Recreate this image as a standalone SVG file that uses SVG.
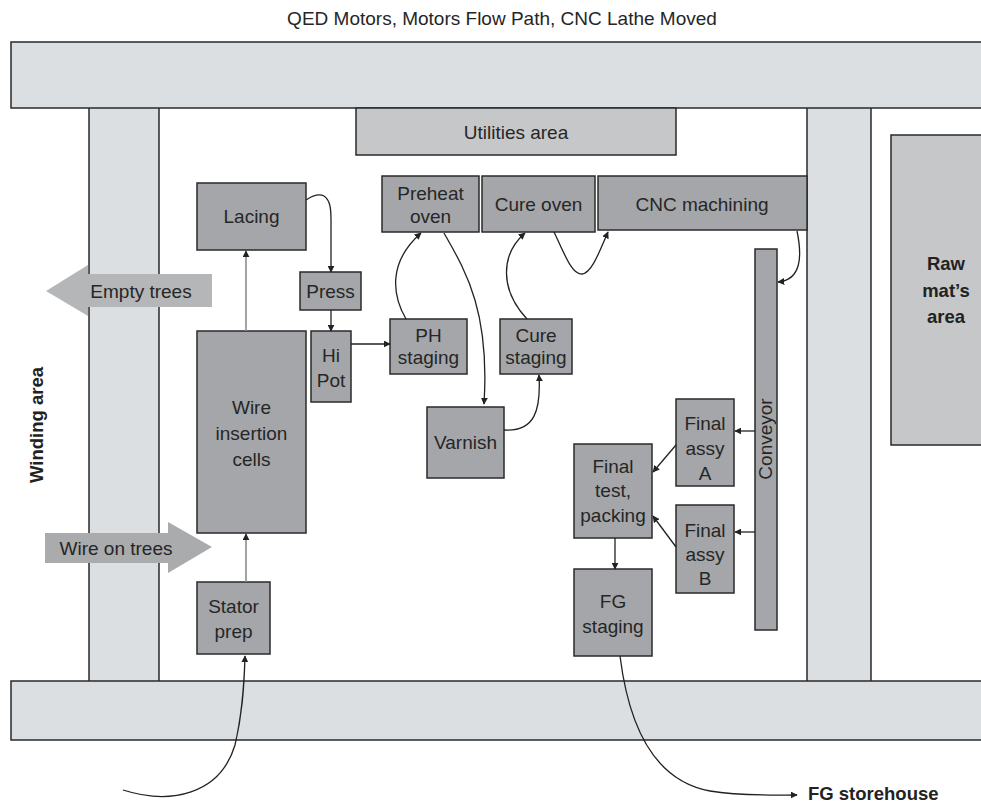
<svg xmlns="http://www.w3.org/2000/svg" width="981" height="803" viewBox="0 0 981 803">
<defs>
<style>
.bar{fill:#dcdfe2;stroke:none}
.edge{stroke:#2a2a2a;stroke-width:1.5;fill:none}
.box{fill:#a4a6a9;stroke:#2a2a2a;stroke-width:1.5}
.area{fill:#c6c7c9;stroke:#2a2a2a;stroke-width:1.5}
.t{font-family:"Liberation Sans",Arial,sans-serif;font-size:19px;fill:#262626;text-anchor:middle}
.b{font-family:"Liberation Sans",Arial,sans-serif;font-size:18.5px;font-weight:bold;fill:#222}
.c{fill:none;stroke:#222;stroke-width:1.3;marker-end:url(#ah)}
.g{fill:none;stroke:#8c8c8c;stroke-width:1.6;marker-end:url(#ah)}
</style>
<marker id="ah" viewBox="0 0 10 10" refX="9" refY="5" markerWidth="7" markerHeight="7" markerUnits="userSpaceOnUse" orient="auto">
<path d="M0,0 L10,5 L0,10 z" fill="#222"/>
</marker>
</defs>
<rect width="981" height="803" fill="#fff"/>
<text class="t" x="502" y="25">QED Motors, Motors Flow Path, CNC Lathe Moved</text>

<g id="building">
<rect class="bar" x="11" y="42" width="975" height="66"/>
<rect class="bar" x="11" y="681" width="975" height="59"/>
<rect class="bar" x="89" y="108" width="70" height="573"/>
<rect class="bar" x="807" y="108" width="64" height="573"/>
<path class="edge" d="M986,42 H11 V108 H986 M986,681 H11 V740 H986 M89,108 V681 M159,108 V681 M807,108 V681 M871,108 V681"/>
</g>

<g id="utilities"><rect class="area" x="356" y="108" width="320" height="47"/><text class="t" x="516" y="139">Utilities area</text></g>
<g id="rawmats"><rect class="area" x="891" y="135" width="100" height="310" fill="#c8cacc"/>
<text class="b" text-anchor="middle" x="946" y="270">Raw</text><text class="b" text-anchor="middle" x="946" y="297">mat’s</text><text class="b" text-anchor="middle" x="946" y="323">area</text></g>
<g id="winding"><text class="b" text-anchor="middle" transform="translate(43,425) rotate(-90)" x="0" y="0">Winding area</text></g>

<g id="emptytrees"><polygon points="212,274 88,274 88,265 46,291 88,316 88,307 212,307" fill="#b4b6b8"/><text class="t" x="141" y="298">Empty trees</text></g>
<g id="wireontrees"><polygon points="45,533 168,533 168,522 212,547 168,573 168,563 45,563" fill="#a9abad"/><text class="t" x="116" y="555">Wire on trees</text></g>

<g id="lacing"><rect class="box" x="197" y="183" width="109" height="67"/><text class="t" x="251.5" y="223">Lacing</text></g>
<g id="wireinsertion"><rect class="box" x="197" y="331" width="109" height="202"/><text class="t" x="251.5" y="414">Wire</text><text class="t" x="251.5" y="440">insertion</text><text class="t" x="251.5" y="466">cells</text></g>
<g id="press"><rect class="box" x="300" y="272" width="61" height="38"/><text class="t" x="330.5" y="298">Press</text></g>
<g id="hipot"><rect class="box" x="311" y="331" width="40" height="71"/><text class="t" x="331" y="362">Hi</text><text class="t" x="331" y="387">Pot</text></g>
<g id="preheat"><rect class="box" x="382" y="176" width="97" height="56"/><text class="t" x="430.5" y="200">Preheat</text><text class="t" x="430.5" y="223">oven</text></g>
<g id="cureoven"><rect class="box" x="482" y="176" width="113" height="56"/><text class="t" x="538.5" y="211">Cure oven</text></g>
<g id="cnc"><rect class="box" x="598" y="176" width="209" height="54"/><text class="t" x="702" y="211">CNC machining</text></g>
<g id="phstaging"><rect class="box" x="390" y="319" width="77" height="55"/><text class="t" x="428.5" y="342">PH</text><text class="t" x="428.5" y="364">staging</text></g>
<g id="curestaging"><rect class="box" x="500" y="319" width="72" height="55"/><text class="t" x="536" y="342">Cure</text><text class="t" x="536" y="364">staging</text></g>
<g id="varnish"><rect class="box" x="427" y="407" width="77" height="71"/><text class="t" x="465.5" y="449">Varnish</text></g>
<g id="conveyor"><rect class="box" x="755" y="249" width="22" height="381"/><text class="t" transform="translate(772,439) rotate(-90)" x="0" y="0">Conveyor</text></g>
<g id="finalA"><rect class="box" x="676" y="399" width="58" height="87"/><text class="t" x="705" y="430">Final</text><text class="t" x="705" y="455">assy</text><text class="t" x="705" y="480">A</text></g>
<g id="finalB"><rect class="box" x="676" y="505" width="58" height="88"/><text class="t" x="705" y="537">Final</text><text class="t" x="705" y="561">assy</text><text class="t" x="705" y="585">B</text></g>
<g id="finaltest"><rect class="box" x="574" y="444" width="78" height="94"/><text class="t" x="613" y="473">Final</text><text class="t" x="613" y="497">test,</text><text class="t" x="613" y="522">packing</text></g>
<g id="fgstaging"><rect class="box" x="574" y="569" width="78" height="87"/><text class="t" x="613" y="608">FG</text><text class="t" x="613" y="633">staging</text></g>
<g id="stator"><rect class="box" x="197" y="582" width="73" height="72"/><text class="t" x="233.5" y="613">Stator</text><text class="t" x="233.5" y="638">prep</text></g>
<g id="fgstorehouse"><text class="b" x="808" y="800">FG storehouse</text></g>

<g id="connectors">
<path class="g" d="M246,331 V251"/>
<path class="g" d="M246,582 V534"/>
<path class="c" d="M306,200 C312,196 318,193 324,196 C330,200 331,208 331,220 L331,272"/>
<path class="c" d="M331,310 V331"/>
<path class="c" d="M351,344 H390"/>
<path class="c" d="M406,319 C392,295 388,262 421,233"/>
<path class="c" d="M444,233 C465,270 490,310 484,404"/>
<path class="c" d="M504,430 C535,432 541,410 539,375"/>
<path class="c" d="M527,319 C500,290 500,255 525,233"/>
<path class="c" d="M554,232 C565,255 572,275 582,274 C592,273 600,250 608,232"/>
<path class="c" d="M797,231 C802,255 802,280 778,282"/>
<path class="c" d="M755,431 H735"/>
<path class="c" d="M755,532 H735"/>
<path class="c" d="M676,445 L653,472"/>
<path class="c" d="M676,547 L653,516"/>
<path class="c" d="M615,538 V569"/>
<path class="c" d="M620,656 C628,720 650,780 710,791 C740,796 770,795 797,795"/>
<path class="c" d="M123,790 C170,805 220,795 235,745 C242,715 244,690 245,656"/>
</g>
</svg>
